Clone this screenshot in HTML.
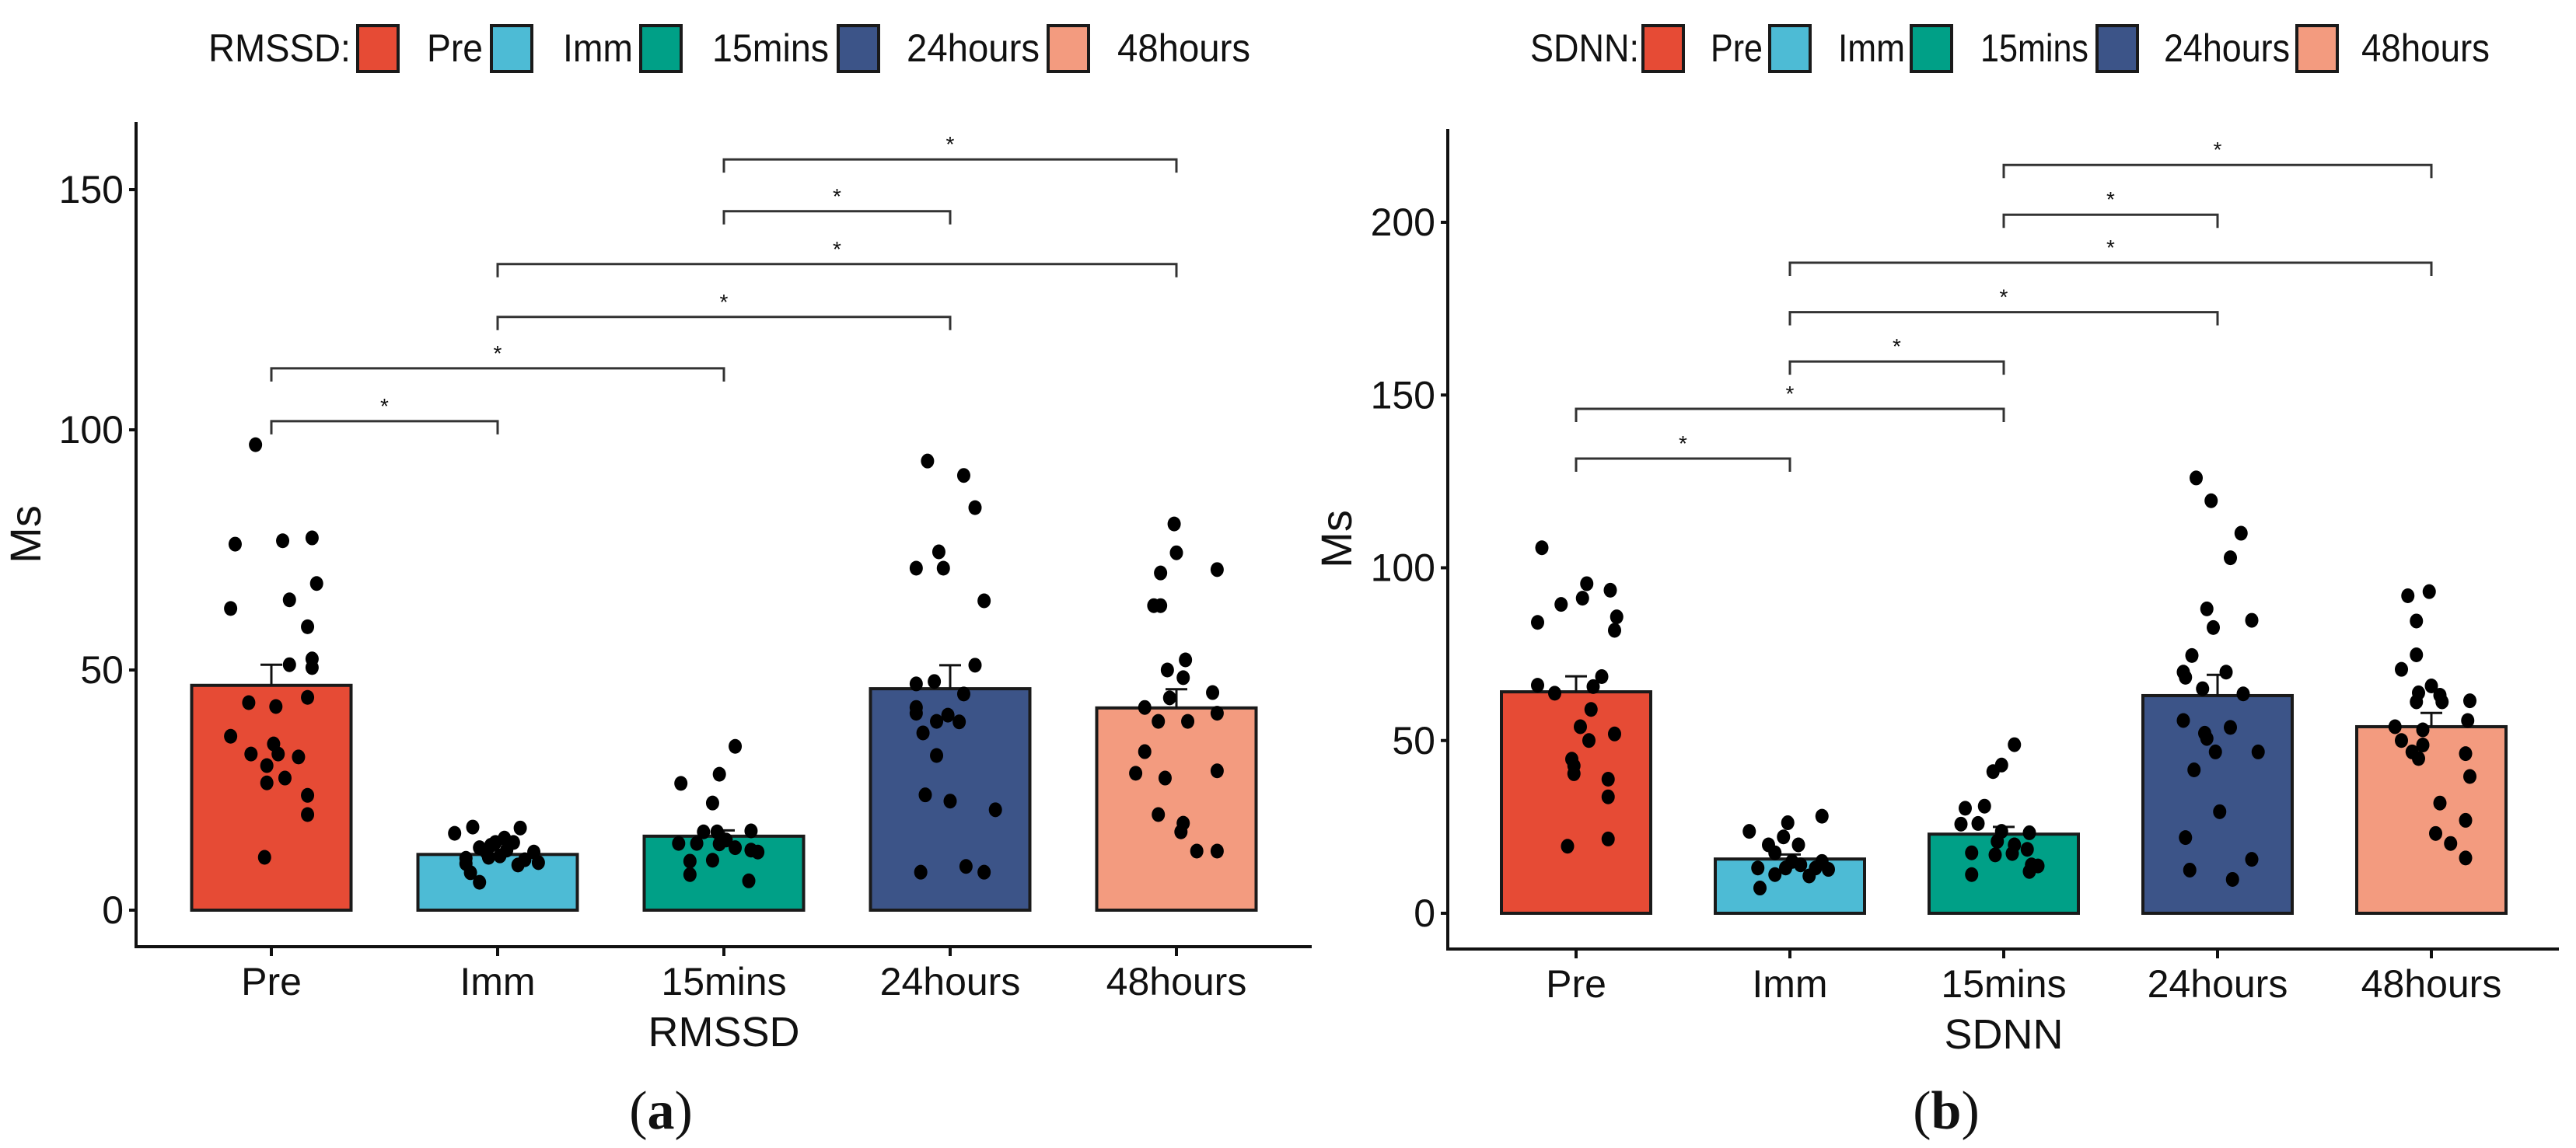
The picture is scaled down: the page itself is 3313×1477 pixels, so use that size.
<!DOCTYPE html>
<html><head><meta charset="utf-8"><style>
html,body{margin:0;padding:0;background:#fff;}
svg{display:block;font-family:"Liberation Sans",Arial,sans-serif;}
</style></head><body>
<svg id="fig" width="3313" height="1477" viewBox="0 0 3313 1477" xmlns="http://www.w3.org/2000/svg"></svg>
<script>
const categories = ["Pre","Imm","15mins","24hours","48hours"];
const colors = ["#E64B35","#4DBBD5","#00A087","#3C5488","#F39B7F"];

// RMSSD (panel a)
const rmssdMeans = [46.8, 11.6, 15.4, 46.1, 42.1];
const rmssdErrTop = [51.1, 12.6, 16.6, 51.0, 46.0];
const rmssdTicks = [0, 50, 100, 150];
const rmssdPoints = [
  [96.9,76.2,76.9,77.5,62.8,64.6,68,59,51.1,52.3,50.5,43.2,42.4,44.3,36.2,34.6,32.5,32.5,31.9,30.1,26.5,27.5,23.9,19.9,11],
  [16,17.3,17.1,13,14.1,14.1,12.1,11.3,12.1,9.9,9.4,9.7,7.8,5.8,11,10.5,13.5,12.5,10.8,15],
  [34.1,28.3,26.4,22.3,16.3,16.3,16.5,13.9,13.9,13.8,13,12.5,12.1,10.2,10.4,7.4,6.1,14.6],
  [93.5,90.5,83.8,74.6,71.2,71.2,64.4,51,47.1,47.6,45,42.2,41,40.6,39.3,39.2,36.9,32.2,24,22.7,20.9,7.9,9.1,7.9],
  [80.4,74.4,70.2,70.9,63.4,63.4,52.1,50,48.4,45.3,44.2,42.2,41,39.3,39.3,33,28.5,27.5,29,19.9,18.1,16.3,12.3,12.3]
];
const rmssdJitter = [
  [-.07,-.16,.05,.18,-.18,.08,.2,.16,.08,.18,.18,-.1,.02,.16,-.18,.01,-.09,.03,.12,-.02,-.02,.06,.16,.16,-.03],
  [-.19,-.11,.1,-.08,-.01,.07,-.05,.01,.16,.18,.09,-.14,-.12,-.08,-.04,.12,-.03,.04,-.14,.03],
  [.05,-.02,-.19,-.05,-.09,-.03,.12,-.2,-.12,-.02,.05,.12,.15,-.15,-.05,-.15,.11,.01],
  [-.1,.06,.11,-.05,-.15,-.03,.15,.11,-.15,-.07,.06,-.15,-.15,-.01,-.06,.04,-.12,-.06,-.11,0,.2,-.13,.07,.15],
  [-.01,0,-.07,.18,-.1,-.07,.04,-.04,.03,.16,-.03,-.14,.18,-.08,.05,-.14,-.18,-.05,.18,-.08,.03,.02,.09,.18]
];
const rmssdBrackets = [[0,1,101.8],[0,2,112.8],[1,3,123.5],[1,4,134.5],[2,3,145.5],[2,4,156.3]];

// SDNN (panel b)
const sdnnMeans = [64.1, 15.7, 22.9, 63.0, 54.0];
const sdnnErrTop = [68.6, 17.0, 25.0, 69.0, 58.0];
const sdnnTicks = [0, 50, 100, 150, 200];
const sdnnPoints = [
  [105.8,95.4,93.5,91.2,89.4,84.2,85.8,81.9,68.5,66,63.7,65.6,59,54,51.9,50,44.6,40.4,38.8,33.7,21.5,19.4,42.7],
  [23.7,26.2,28.1,22.1,19.8,19.8,17.5,15,15,13.1,11.2,10.8,12.7,7.3,13.1,13.1,14],
  [48.8,42.9,41,30.4,31,25.8,26,23.7,23.3,20.8,19.8,18.5,17.5,16.9,17.3,14,13.7,11.2,12.1],
  [126,119.4,110,102.9,88.1,84.8,82.7,74.6,69.8,69.8,68.3,65,63.5,55.8,53.8,52.1,50.6,46.7,46.7,41.5,29.4,21.9,15.6,12.5,9.8],
  [91.9,93.1,84.6,74.8,70.6,65.8,63.8,63.1,61.2,61.5,61.2,55.8,54,53.1,50,48.7,46.7,44.8,46.2,39.6,31.9,26.9,23.1,20.2,16]
];
const sdnnJitter = [
  [-.16,.05,.16,.03,-.07,-.18,.19,.18,.12,-.18,-.1,.08,.07,.02,.18,.06,-.02,-.01,.15,.15,.15,-.04,-.01],
  [-.19,-.01,.15,-.03,-.1,.04,-.07,.01,.15,-.15,-.07,.09,.18,-.14,.12,-.02,.05],
  [.05,-.01,-.05,-.18,-.09,-.2,-.12,-.01,.12,-.03,.05,.11,-.15,-.04,.04,.13,.16,-.15,.12],
  [-.1,-.03,.11,.06,-.05,.16,-.02,-.12,.04,-.16,-.15,-.07,.12,-.16,.06,-.06,-.05,-.01,.19,-.11,.01,-.15,.16,-.13,.07],
  [-.11,-.01,-.07,-.07,-.14,0,-.06,.04,.05,.18,-.07,.17,-.17,-.04,-.14,-.04,-.09,-.06,.16,.18,.04,.16,.02,.09,.16]
];
const sdnnBrackets = [[0,1,131.6],[0,2,146],[1,2,159.7],[1,3,174],[1,4,188.3],[2,3,202.2],[2,4,216.6]];

const NS = "http://www.w3.org/2000/svg";
const svg = document.getElementById("fig");
function mk(tag, attrs, parent, text){
  const e = document.createElementNS(NS, tag);
  for (const k in attrs) e.setAttribute(k, attrs[k]);
  if (text !== undefined) e.textContent = text;
  (parent || svg).appendChild(e);
  return e;
}

function drawPanel(cfg){
  const g = mk("g", {});
  
  
  const y = v => cfg.y0 - (v - 0) * (cfg.y0 - cfg.yTop) / cfg.topVal;
  const x = i => cfg.x0 + i * cfg.step;
  const bw = cfg.bw;

  const ya = mk("line", {x1:cfg.ax, y1:cfg.axTop, x2:cfg.ax, y2:cfg.axY, stroke:"#111", "stroke-width":4}, g);
  
  
  const xa = mk("line", {x1:cfg.ax-2, y1:cfg.axY, x2:cfg.axRight, y2:cfg.axY, stroke:"#111", "stroke-width":4}, g);
  
  

  cfg.ticks.forEach(t => {
    const tk = mk("line", {x1:cfg.ax-9, y1:y(t), x2:cfg.ax, y2:y(t), stroke:"#111", "stroke-width":4}, g);
    
    
    const tl = mk("text", {x:cfg.ax-16, y:y(t)+17, "font-size":50, "text-anchor":"end", fill:"#111"}, g, String(t));
    
    
  });

  categories.forEach((c, i) => {
    const tk = mk("line", {x1:x(i), y1:cfg.axY, x2:x(i), y2:cfg.axY+12, stroke:"#111", "stroke-width":4}, g);
    
    
    const tl = mk("text", {x:x(i), y:cfg.axY+62, "font-size":50, "text-anchor":"middle", fill:"#111"}, g, c);
    
    
  });

  categories.forEach((c, i) => {
    const top = y(cfg.means[i]);
    const b = mk("rect", {x:x(i)-bw/2, y:top, width:bw, height:y(0)-top, fill:colors[i], stroke:"#1a1a1a", "stroke-width":4}, g);
    
    
    const et = y(cfg.err[i]);
    const ev = mk("line", {x1:x(i), y1:top, x2:x(i), y2:et, stroke:"#111", "stroke-width":3}, g);
    
    
    const ec = mk("line", {x1:x(i)-14, y1:et, x2:x(i)+14, y2:et, stroke:"#111", "stroke-width":3}, g);
    
    
  });

  cfg.points.forEach((arr, i) => {
    arr.forEach((v, j) => {
      const p = mk("ellipse", {cx:x(i) + cfg.jitter[i][j]*cfg.step, cy:y(v), rx:8.5, ry:9.5, fill:"#000"}, g);
      
      
    });
  });

  cfg.brackets.forEach(br => {
    const x1 = x(br[0]), x2 = x(br[1]), yy = y(br[2]);
    const pl = mk("polyline", {points:`${x1},${yy+17} ${x1},${yy} ${x2},${yy} ${x2},${yy+17}`, fill:"none", stroke:"#333", "stroke-width":3}, g);
    
    
    const st = mk("text", {x:(x1+x2)/2, y:yy-10, "font-size":28, "text-anchor":"middle", fill:"#111"}, g, "*");
    
    
  });

  const yt = mk("text", {x:0, y:0, "font-size":56, "text-anchor":"middle", fill:"#111", transform:`translate(${cfg.ytX},${(cfg.axTop+cfg.axY)/2}) rotate(-90)`}, g, "Ms");
  
  
  const xt = mk("text", {x:x(2), y:cfg.axY+128, "font-size":54, "text-anchor":"middle", fill:"#111"}, g, cfg.id.toUpperCase());
  
  
  const cap = mk("text", {x:cfg.capX, y:1452, "font-size":70, "text-anchor":"middle", fill:"#111", "font-family":"Liberation Serif, serif"}, g);
  
  
  mk("tspan", {}, cap, "(");
  mk("tspan", {"font-weight":"bold"}, cap, cfg.letter);
  mk("tspan", {}, cap, ")");

  const lg = mk("g", {}, g);
  
  
  const lt = mk("text", {x:cfg.leg.title, y:79, "font-size":50, fill:"#111", textLength:cfg.leg.titleW, lengthAdjust:"spacingAndGlyphs"}, lg, cfg.id.toUpperCase() + ":");
  
  
  categories.forEach((c, i) => {
    const bx = mk("rect", {x:cfg.leg.box[i], y:33, width:52, height:59, fill:colors[i], stroke:"#1a1a1a", "stroke-width":4}, lg);
    
    
    const tx = mk("text", {x:cfg.leg.text[i], y:79, "font-size":50, fill:"#111", textLength:cfg.leg.w[i], lengthAdjust:"spacingAndGlyphs"}, lg, c);
    
    
  });
}

drawPanel({
  id:"rmssd", letter:"a", means:rmssdMeans, err:rmssdErrTop, ticks:rmssdTicks, points:rmssdPoints, jitter:rmssdJitter, brackets:rmssdBrackets,
  y0:1171, yTop:244, topVal:150, x0:349, step:291, bw:205, ax:175, axTop:157, axY:1218, axRight:1687, ytX:52, capX:850,
  leg:{title:268, titleW:183, box:[460,632,824,1078,1348], text:[549,724,916,1166,1437], w:[72,90,150,171,171]}
});
drawPanel({
  id:"sdnn", letter:"b", means:sdnnMeans, err:sdnnErrTop, ticks:sdnnTicks, points:sdnnPoints, jitter:sdnnJitter, brackets:sdnnBrackets,
  y0:1175, yTop:286, topVal:200, x0:2027, step:275, bw:192, ax:1862, axTop:166, axY:1221, axRight:3291, ytX:1738, capX:2503,
  leg:{title:1968, titleW:140, box:[2113,2276,2458,2697,2954], text:[2200,2364,2547,2783,3037], w:[67,86,139,162,165]}
});
</script>
</body></html>
